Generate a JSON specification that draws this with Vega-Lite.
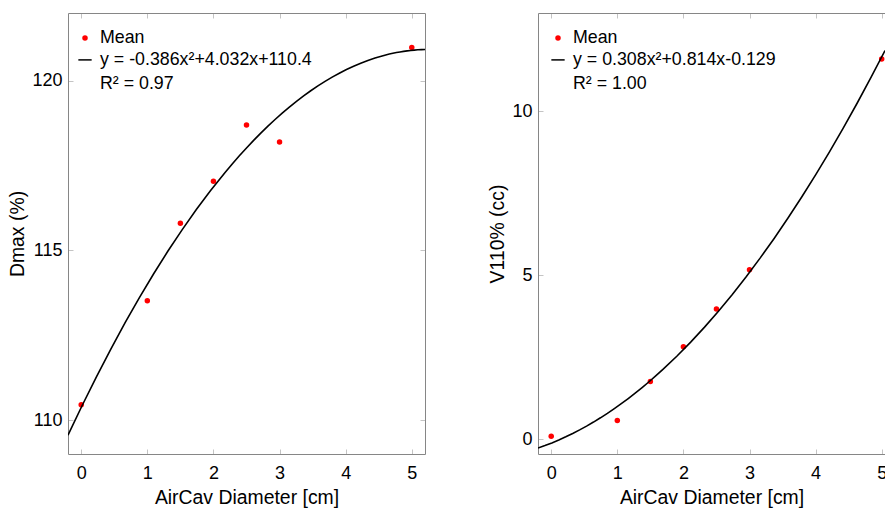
{
  "$schema": "https://vega.github.io/schema/vega-lite/v6.json",
  "padding": {"left": 7, "top": 12, "right": 0, "bottom": 3},
  "background": "white",
  "spacing": 113,
  "bounds": "flush",
  "resolve": {
    "scale": {"fill": "independent", "stroke": "independent", "shape": "independent", "size": "independent"},
    "legend": {"fill": "independent", "stroke": "independent", "shape": "independent", "size": "independent"}
  },
  "config": {
    "font": "Liberation Sans",
    "view": {"stroke": null},
    "axis": {
      "domainColor": "#868686",
      "domainWidth": 1,
      "tickColor": "#c4c4c4",
      "tickSize": -5,
      "labelFontSize": 18,
      "titleFontSize": 19.4,
      "titleFontWeight": "normal",
      "labelColor": "#000000",
      "titleColor": "#000000",
      "labelFont": "Liberation Sans",
      "titleFont": "Liberation Sans",
      "grid": false
    },
    "axisX": {"labelPadding": 15, "titlePadding": 6},
    "axisY": {"labelPadding": 11},
    "legend": {
      "labelFont": "Liberation Sans",
      "labelFontSize": 17.8,
      "labelColor": "#000000",
      "labelLimit": 500
    }
  },
  "hconcat": [
    {
      "width": 357,
      "height": 441,
      "data": {"values": [
        {"x": 0, "y": 110.45, "series": "Mean"},
        {"x": 1, "y": 113.52, "series": "Mean"},
        {"x": 1.5, "y": 115.8, "series": "Mean"},
        {"x": 2, "y": 117.04, "series": "Mean"},
        {"x": 2.5, "y": 118.7, "series": "Mean"},
        {"x": 3, "y": 118.2, "series": "Mean"},
        {"x": 5, "y": 120.98, "series": "Mean"}
      ]},
      "layer": [
        {
          "mark": {"type": "point", "filled": true, "opacity": 1},
          "encoding": {
            "x": {"field": "x", "type": "quantitative",
              "scale": {"domain": [-0.2, 5.2], "nice": false, "zero": false},
              "axis": {"orient": "bottom", "values": [0, 1, 2, 3, 4, 5], "title": "AirCav Diameter [cm]"}},
            "y": {"field": "y", "type": "quantitative",
              "scale": {"domain": [109, 122], "nice": false, "zero": false},
              "axis": {"orient": "left", "values": [110, 115, 120], "title": "Dmax (%)"}},
            "fill": {"field": "series", "type": "nominal",
              "scale": {"domain": ["Mean", "y = -0.386x²+4.032x+110.4", "R² = 0.97"], "range": ["#ff0000", "transparent", "transparent"]},
              "legend": {"title": null, "orient": "none", "legendX": 7, "legendY": 16, "padding": 0, "rowPadding": 3, "labelOffset": 5, "symbolStrokeWidth": 1.5}},
            "stroke": {"field": "series", "type": "nominal",
              "scale": {"domain": ["Mean", "y = -0.386x²+4.032x+110.4", "R² = 0.97"], "range": ["transparent", "#000000", "transparent"]},
              "legend": {"title": null, "orient": "none", "legendX": 7, "legendY": 16, "padding": 0, "rowPadding": 3, "labelOffset": 5, "symbolStrokeWidth": 1.5}},
            "shape": {"field": "series", "type": "nominal",
              "scale": {"domain": ["Mean", "y = -0.386x²+4.032x+110.4", "R² = 0.97"], "range": ["circle", "stroke", "circle"]},
              "legend": {"title": null, "orient": "none", "legendX": 7, "legendY": 16, "padding": 0, "rowPadding": 3, "labelOffset": 5, "symbolStrokeWidth": 1.5}},
            "size": {"field": "series", "type": "nominal",
              "scale": {"domain": ["Mean", "y = -0.386x²+4.032x+110.4", "R² = 0.97"], "range": [30, 324, 4]},
              "legend": {"title": null, "orient": "none", "legendX": 7, "legendY": 16, "padding": 0, "rowPadding": 3, "labelOffset": 5, "symbolStrokeWidth": 1.5}}
          }
        },
        {
          "transform": [{"regression": "y", "on": "x", "method": "poly", "order": 2, "extent": [-0.2, 5.2]}],
          "mark": {"type": "line", "color": "#000000", "strokeWidth": 1.6, "clip": true},
          "encoding": {
            "x": {"field": "x", "type": "quantitative", "axis": {"orient": "top", "values": [0, 1, 2, 3, 4, 5], "labels": false, "title": null}},
            "y": {"field": "y", "type": "quantitative", "axis": {"orient": "right", "values": [110, 115, 120], "labels": false, "title": null}}
          }
        }
      ]
    },
    {
      "width": 347,
      "height": 441,
      "data": {"values": [
        {"x": 0, "y": 0.09, "series": "Mean"},
        {"x": 1, "y": 0.57, "series": "Mean"},
        {"x": 1.5, "y": 1.76, "series": "Mean"},
        {"x": 2, "y": 2.82, "series": "Mean"},
        {"x": 2.5, "y": 3.97, "series": "Mean"},
        {"x": 3, "y": 5.17, "series": "Mean"},
        {"x": 5, "y": 11.6, "series": "Mean"}
      ]},
      "layer": [
        {
          "mark": {"type": "point", "filled": true, "opacity": 1},
          "encoding": {
            "x": {"field": "x", "type": "quantitative",
              "scale": {"domain": [-0.2, 5.05], "nice": false, "zero": false},
              "axis": {"orient": "bottom", "values": [0, 1, 2, 3, 4, 5], "title": "AirCav Diameter [cm]"}},
            "y": {"field": "y", "type": "quantitative",
              "scale": {"domain": [-0.45, 13], "nice": false, "zero": false},
              "axis": {"orient": "left", "values": [0, 5, 10], "title": "V110% (cc)"}},
            "fill": {"field": "series", "type": "nominal",
              "scale": {"domain": ["Mean", "y = 0.308x²+0.814x-0.129", "R² = 1.00"], "range": ["#ff0000", "transparent", "transparent"]},
              "legend": {"title": null, "orient": "none", "legendX": 10, "legendY": 16, "padding": 0, "rowPadding": 3, "labelOffset": 5, "symbolStrokeWidth": 1.5}},
            "stroke": {"field": "series", "type": "nominal",
              "scale": {"domain": ["Mean", "y = 0.308x²+0.814x-0.129", "R² = 1.00"], "range": ["transparent", "#000000", "transparent"]},
              "legend": {"title": null, "orient": "none", "legendX": 10, "legendY": 16, "padding": 0, "rowPadding": 3, "labelOffset": 5, "symbolStrokeWidth": 1.5}},
            "shape": {"field": "series", "type": "nominal",
              "scale": {"domain": ["Mean", "y = 0.308x²+0.814x-0.129", "R² = 1.00"], "range": ["circle", "stroke", "circle"]},
              "legend": {"title": null, "orient": "none", "legendX": 10, "legendY": 16, "padding": 0, "rowPadding": 3, "labelOffset": 5, "symbolStrokeWidth": 1.5}},
            "size": {"field": "series", "type": "nominal",
              "scale": {"domain": ["Mean", "y = 0.308x²+0.814x-0.129", "R² = 1.00"], "range": [30, 324, 4]},
              "legend": {"title": null, "orient": "none", "legendX": 10, "legendY": 16, "padding": 0, "rowPadding": 3, "labelOffset": 5, "symbolStrokeWidth": 1.5}}
          }
        },
        {
          "transform": [{"regression": "y", "on": "x", "method": "poly", "order": 2, "extent": [-0.2, 5.05]}],
          "mark": {"type": "line", "color": "#000000", "strokeWidth": 1.6, "clip": true},
          "encoding": {
            "x": {"field": "x", "type": "quantitative", "axis": {"orient": "top", "values": [0, 1, 2, 3, 4, 5], "labels": false, "title": null}},
            "y": {"field": "y", "type": "quantitative", "axis": {"orient": "left", "values": [0, 5, 10], "title": "V110% (cc)"}}
          }
        }
      ]
    }
  ]
}
